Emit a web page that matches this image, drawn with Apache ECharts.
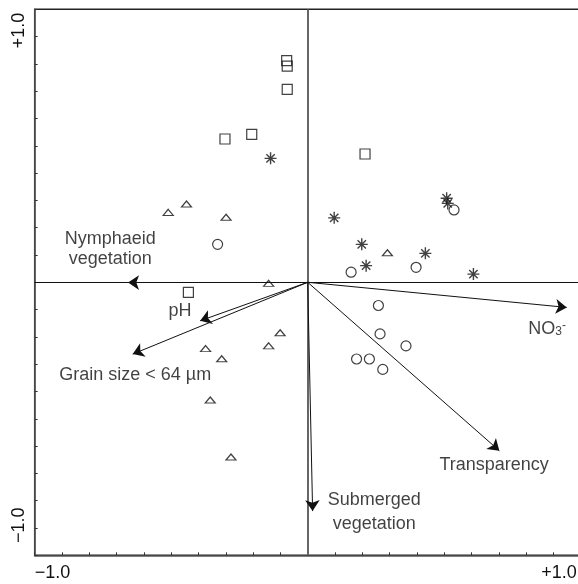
<!DOCTYPE html>
<html><head><meta charset="utf-8">
<script src="https://cdn.jsdelivr.net/npm/echarts@6/dist/echarts.min.js"></script>
<style>html,body{margin:0;padding:0;background:#fff}#c{width:578px;height:584px}</style>
</head><body><div id="c"></div>
<script>
// Sample scores (x = axis 1, y = axis 2)
const squares = [[-0.077,0.812],[-0.075,0.792],[-0.075,0.707],[-0.303,0.525],[-0.205,0.542],[0.210,0.470],[-0.437,-0.037]];
const stars = [[-0.136,0.454],[0.097,0.236],[0.198,0.139],[0.214,0.061],[0.509,0.308],[0.513,0.289],[0.431,0.106],[0.607,0.030]];
const circles = [[-0.330,0.139],[0.159,0.037],[0.397,0.055],[0.536,0.265],[0.259,-0.085],[0.265,-0.189],[0.360,-0.233],[0.179,-0.281],[0.226,-0.281],[0.275,-0.319]];
const triangles = [[-0.511,0.256],[-0.444,0.287],[-0.299,0.238],[-0.143,-0.004],[-0.101,-0.185],[-0.143,-0.233],[-0.374,-0.243],[-0.315,-0.280],[-0.357,-0.431],[-0.281,-0.640],[0.292,0.108]];
// Environmental vectors
const vectorNames = ['Nymphaeid\nvegetation','pH','Grain size < 64 µm','NO3-','Transparency','Submerged\nvegetation'];
const vectorEnds = [[-0.658,-0.001],[-0.394,-0.141],[-0.641,-0.263],[0.949,-0.092],[0.702,-0.617],[0.018,-0.838]];
const vectorLabelAt = [[-0.723,0.123],[-0.468,-0.104],[-0.632,-0.338],[0.877,-0.170],[0.683,-0.668],[0.244,-0.840]];
// Axis tick labels
const tickValues = [-1, 1];
const tickLabels = ['\u22121.0', '+1.0'];

const FONT = '"Liberation Sans", Arial, Helvetica, sans-serif';
const TXT = '#111';
const chart = echarts.init(document.getElementById('c'), null, {renderer:'canvas'});

function tickFmt(v){
  for (let i=0;i<tickValues.length;i++) if (Math.abs(v-tickValues[i])<1e-6) return '{' + (tickValues[i] > 0 ? 'r' : 'l') + '|' + tickLabels[i] + '}';
  return '';
}
const open = {color:'rgba(0,0,0,0)', borderColor:'#111', borderWidth:1.2};
const starPath = 'path://M0,5 L10,5 M5,0 L5,10 M1.5,1.5 L8.5,8.5 M8.5,1.5 L1.5,8.5';

const labelData = vectorNames.map((n,i)=>{
  const item = {value: vectorLabelAt[i], name:n};
  if (n === 'NO3-') {
    item.label = {formatter:'{n|NO}{sub|3}{sup|-}', rich:{
      n:{fontSize:18, lineHeight:18, fontFamily:FONT, color:TXT, verticalAlign:'middle'},
      sub:{fontSize:12, lineHeight:12, fontFamily:FONT, color:TXT, verticalAlign:'bottom'},
      sup:{fontSize:12, lineHeight:12, fontFamily:FONT, color:TXT, verticalAlign:'top'}
    }};
  } else if (n.indexOf('Submerged')===0) {
    item.label = {lineHeight:24};
  } else {
    item.label = {lineHeight:20};
  }
  return item;
});

const option = {
  animation:false,
  backgroundColor:'#fff',
  grid:{left:34.7, top:9.3, width:546, height:546, outerBoundsMode:'none', containLabel:false,
    show:true, borderColor:'#222', borderWidth:1.5, backgroundColor:'transparent'},
  xAxis:{type:'value', min:-1, max:1, interval:0.1,
    axisLine:{show:true, onZero:false, lineStyle:{color:'#555', width:1.5}},
    axisTick:{show:true, inside:true, length:3, lineStyle:{color:'#333', width:1}},
    splitLine:{show:false},
    axisLabel:{interval:0, formatter:tickFmt, fontSize:18, color:TXT, fontFamily:FONT, margin:9,
      alignMinLabel:'left', alignMaxLabel:'right', showMinLabel:true, showMaxLabel:true, hideOverlap:false,
      rich:{l:{fontSize:18, color:TXT, fontFamily:FONT, padding:[0,0,0,0]},
            r:{fontSize:18, color:TXT, fontFamily:FONT, padding:[0,4,0,0]}}}},
  yAxis:{type:'value', min:-1, max:1, interval:0.1,
    axisLine:{show:true, onZero:false, lineStyle:{color:'#555', width:1.5}},
    axisTick:{show:true, inside:true, length:3, lineStyle:{color:'#333', width:1}},
    splitLine:{show:false},
    axisLabel:{show:false}},
  series:[
    {type:'lines', coordinateSystem:'cartesian2d', silent:true, z:1, symbol:'none',
     data:[{coords:[[0,-1],[0,1]], lineStyle:{color:'#666', width:2}},
           {coords:[[-1,0],[1,0]], lineStyle:{color:'#111', width:1.2}}],
     lineStyle:{opacity:1}},
    {type:'lines', coordinateSystem:'cartesian2d', silent:true, z:3,
     symbol:['none','arrow'], symbolSize:[0,11],
     lineStyle:{color:'#111', width:1, opacity:1},
     data: vectorEnds.map(e=>({coords:[[0,0], e]}))},
    {type:'scatter', name:'squares', data:squares, symbol:'rect', symbolSize:10, itemStyle:open, z:4},
    {type:'scatter', name:'circles', data:circles, symbol:'circle', symbolSize:10, itemStyle:open, z:4},
    {type:'scatter', name:'triangles', data:triangles, symbol:'triangle', symbolSize:[10,6], itemStyle:open, z:4},
    {type:'scatter', name:'stars', data:stars, symbol:starPath, symbolSize:12, itemStyle:{color:'none', borderColor:'#111', borderWidth:1.4}, z:4},
    {type:'scatter', name:'vectorLabels', data:labelData, symbolSize:1, itemStyle:{color:'rgba(0,0,0,0)'}, silent:true, z:5,
     label:{show:true, position:'inside', formatter:'{b}', fontSize:18, color:TXT, fontFamily:FONT, align:'center', verticalAlign:'middle'}}
  ]
};
chart.setOption(option);

// rotated y-axis tick labels placed via the axis scale
const yLabels = tickValues.map((v,i)=>{
  const p = chart.convertToPixel({gridIndex:0}, [-1, v]);
  return {type:'text', x: p[0]-15.5, y: v>0 ? p[1]+21.2 : p[1]-30, rotation: Math.PI/2,
    style:{text: tickLabels[i], fontSize:18, fill:TXT, fontFamily:FONT, align:'center', verticalAlign:'middle'}};
});
chart.setOption({graphic: yLabels});
</script></body></html>
